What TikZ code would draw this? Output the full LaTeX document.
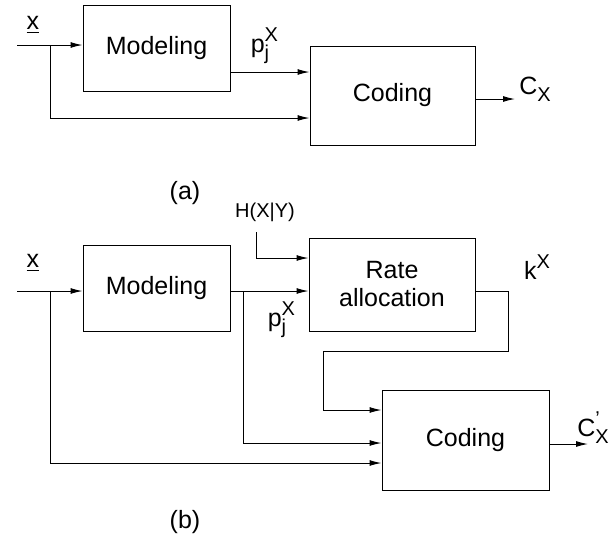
\documentclass[tikz,border=0pt]{standalone}
\usepackage{fontspec}
\setmainfont{Liberation Sans}
\usepackage{tikz}
\usetikzlibrary{arrows.meta,positioning}

\newcommand{\supX}[1]{\raisebox{5.5pt}{\fontsize{10}{12}\selectfont #1}}
\newcommand{\subX}[1]{\raisebox{-3.5pt}{\fontsize{10}{12}\selectfont #1}}

\tikzset{
  blk/.style={draw,line width=0.5pt,font=\fontsize{12.5}{14}\selectfont,align=center,inner sep=0pt},
  lbl/.style={font=\fontsize{12.5}{14}\selectfont,inner sep=0pt},
  wire/.style={line width=0.5pt,-{Latex[length=6pt,width=3pt]}}
}

\begin{document}
\begin{tikzpicture}[x=0.5pt,y=-0.5pt]
\useasboundingbox (0,0) rectangle (610,537);
% (a)
\node[blk,minimum width=73.5pt,minimum height=43pt] (modA) at (156.5,48) {Modeling};
\node[blk,minimum width=82.5pt,minimum height=49.5pt] (codA) at (392.5,95.5) {Coding};
\coordinate (inA) at (17,45);
\coordinate (brA) at (50,45);
\coordinate (botA) at (50,118);
\coordinate (outA) at (515,99);
\draw[wire] (inA) -- (modA.west |- inA);
\draw[wire] (brA) -- (botA) -- (botA -| codA.west);
\draw[wire] (modA.east |- 0,72) -- (codA.west |- 0,72);
\draw[wire] (codA.east |- outA) -- (outA);
\node[lbl] (xA) at (33,25) {\underline{x}};
\node[lbl] (pA) at (260,46) {p\rlap{\supX{X}}\subX{j}};
\node[lbl] (cA) at (535,89) {C\subX{X}};
\node[lbl] (capA) at (185,193) {(a)};
% (b)
\node[blk,minimum width=73.5pt,minimum height=43pt] (modB) at (156.5,288) {Modeling};
\node[blk,minimum width=83pt,minimum height=46.5pt] (rateB) at (392,284.5) {Rate\\allocation};
\node[blk,minimum width=83.5pt,minimum height=50pt] (codB) at (465.5,440) {Coding};
\coordinate (inB) at (17,291);
\coordinate (brB) at (50,291);
\coordinate (botB) at (50,463);
\coordinate (brP) at (243,291);
\coordinate (botP) at (243,443);
\coordinate (hB) at (256,232);
\coordinate (kR) at (508,291);
\coordinate (kD) at (508,351);
\coordinate (kL) at (323,351);
\coordinate (kB) at (323,410);
\coordinate (outB) at (588,444);
\draw[wire] (inB) -- (modB.west |- inB);
\draw[wire] (brB) -- (botB) -- (botB -| codB.west);
\draw[wire] (modB.east |- inB) -- (rateB.west |- inB);
\draw[wire] (brP) -- (botP) -- (botP -| codB.west);
\draw[wire] (hB) |- (rateB.west |- 0,258);
\draw[wire] (rateB.east |- kR) -- (kR) -- (kD) -- (kL) -- (kB) -- (kB -| codB.west);
\draw[wire] (codB.east |- outB) -- (outB);
\node[lbl] (hLbl) at (265,212) {\fontsize{10}{12}\selectfont H(X|Y)};
\node[lbl] (xB) at (33,263) {\underline{x}};
\node[lbl] (pB) at (277,320) {p\rlap{\supX{X}}\subX{j}};
\node[lbl] (kLbl) at (537,267) {k\supX{X}};
\node[lbl] (cB) at (593,428) {C\rlap{\supX{\textquoteright}}\subX{X}};
\node[lbl] (capB) at (185,522) {(b)};
\end{tikzpicture}
\end{document}
